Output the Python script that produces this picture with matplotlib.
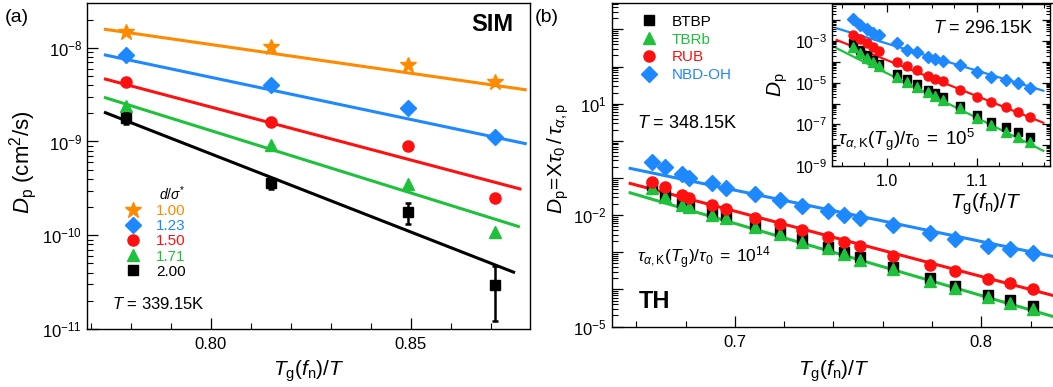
import numpy as np
import matplotlib
matplotlib.use("Agg")
import matplotlib.pyplot as plt
from matplotlib.ticker import FixedLocator, MultipleLocator, LogLocator, FuncFormatter, NullFormatter

plt.rcParams['font.family'] = ['Liberation Sans', 'DejaVu Sans']
plt.rcParams['mathtext.fontset'] = 'custom'
plt.rcParams['mathtext.rm'] = 'Liberation Sans'
plt.rcParams['mathtext.it'] = 'Liberation Sans:italic'
plt.rcParams['mathtext.bf'] = 'Liberation Sans:bold'

# ---------------- Panel (a) data ----------------
xa = [0.7788, 0.8152, 0.8494, 0.8711]
dsig_labels = ['1.00', '1.23', '1.50', '1.71', '2.00']
Da_100 = [1.46e-8, 1.03e-8, 6.6e-9, 4.27e-9]
Da_123 = [8.36e-9, 4.0e-9, 2.3e-9, 1.13e-9]
Da_150 = [4.35e-9, 1.63e-9, 8.85e-10, 2.48e-10]
Da_171 = [2.39e-9, 9.2e-10, 3.52e-10, 1.09e-10]
Da_200 = [1.77e-9, 3.64e-10, 1.76e-10, 2.95e-11]
Da_200_lo = [1.55e-9, 3.1e-10, 1.32e-10, 1.22e-11]
Da_200_hi = [2.0e-9, 4.1e-10, 2.19e-10, 4.71e-11]
# fit lines (start, end)
fitx_100 = [0.7737, 0.8786]; fit_100 = [1.57e-8, 3.57e-9]
fitx_123 = [0.7737, 0.8786]; fit_123 = [8.36e-9, 9.5e-10]
fitx_150 = [0.7737, 0.8773]; fit_150 = [4.63e-9, 3.12e-10]
fitx_171 = [0.7737, 0.8769]; fit_171 = [2.93e-9, 1.24e-10]
fitx_200 = [0.7737, 0.8757]; fit_200 = [2.03e-9, 4.04e-11]

# ---------------- Panel (b) main data (log10 of Dp) ----------------
xb = [0.6665, 0.6717, 0.6785, 0.6815, 0.6906, 0.6964, 0.7082, 0.7183, 0.7271,
      0.7379, 0.7444, 0.7508, 0.7643, 0.7792, 0.7893, 0.8028, 0.8116, 0.8211]
logDb_NBD = [-0.563, -0.714, -0.895, -1.011, -1.146, -1.264, -1.442, -1.596, -1.757,
             -1.892, -2.000, -2.089, -2.270, -2.477, -2.655, -2.836, -2.925, -3.032]
logDb_RUB = [-1.102, -1.237, -1.461, -1.550, -1.730, -1.846, -2.073, -2.243, -2.404,
             -2.601, -2.720, -2.836, -3.105, -3.348, -3.501, -3.733, -3.841, -4.003]
logDb_TBRb = [-1.280, -1.507, -1.730, -1.792, -2.000, -2.089, -2.332, -2.512, -2.720,
              -2.898, -3.051, -3.213, -3.464, -3.771, -3.976, -4.202, -4.364, -4.542]
logDb_BTBP = [-1.190, -1.450, -1.668, -1.740, -1.911, -2.030, -2.270, -2.450, -2.655,
              -2.854, -2.989, -3.140, -3.410, -3.706, -3.914, -4.156, -4.291, -4.453]
fitxb = [0.6575, 0.8286]
logfitb_NBD = [-0.741, -3.105]
logfitb_RUB = [-1.146, -4.156]
logfitb_TBRb = [-1.399, -4.722]

# ---------------- Inset data (log10 of Dp) ----------------
xi = [0.9626, 0.9703, 0.9781, 0.9848, 0.9914, 1.0114, 1.0226, 1.0337, 1.0459,
      1.0537, 1.0626, 1.0814, 1.1003, 1.1159, 1.1326, 1.1459, 1.1592]
logDi_NBD = [-1.95, -2.22, -2.43, -2.59, -2.70, -3.10, -3.42, -3.53, -3.75,
             -3.87, -3.95, -4.14, -4.47, -4.71, -4.87, -5.02, -5.26]
logDi_RUB = [-2.70, -2.90, -3.10, -3.28, -3.45, -3.99, -4.17, -4.40, -4.65,
             -4.80, -4.90, -5.35, -5.67, -5.91, -6.15, -6.39, -6.63]
logDi_TBRb = [-3.30, -3.55, -3.80, -4.00, -4.20, -4.70, -4.95, -5.20, -5.45,
              -5.62, -5.83, -6.23, -6.71, -7.03, -7.35, -7.59, -7.83]
logDi_BTBP = [-3.10, -3.40, -3.65, -3.88, -4.08, -4.58, -4.83, -5.08, -5.33,
              -5.50, -5.70, -6.12, -6.55, -6.87, -7.14, -7.35, -7.62]
fitxi = [0.9444, 1.1740]
logfiti_NBD = [-2.38, -5.38]
logfiti_RUB = [-2.94, -6.92]
logfiti_TBRb = [-3.34, -8.27]

mol_labels = ['BTBP', 'TBRb', 'RUB', 'NBD-OH']

C_OR = '#ff8a00'
C_BL = '#1e88ff'
C_RD = '#ff1010'
C_GR = '#1fc13c'
C_BK = '#000000'

W, H = 1053, 387
fig = plt.figure(figsize=(W / 100, H / 100), dpi=100)


def style_ax(ax, lab=12):
    ax.tick_params(which='both', direction='in', labelsize=lab)
    ax.tick_params(axis='x', which='both', pad=6)
    ax.tick_params(which='major', length=8, width=0.9)
    ax.tick_params(which='minor', length=4, width=0.8)
    for s in ax.spines.values():
        s.set_linewidth(1.0)


def p10(v):
    return 10.0 ** np.asarray(v)


# ================= Panel (a) =================
A_L, A_R, A_T, A_B = 87, 530, 3.4, 329
axA = fig.add_axes([A_L / W, 1 - A_B / H, (A_R - A_L) / W, (A_B - A_T) / H])
axA.set_yscale('log')
lw = 2.2
axA.plot(fitx_100, fit_100, color=C_OR, lw=lw, zorder=2)
axA.plot(fitx_123, fit_123, color=C_BL, lw=lw, zorder=2)
axA.plot(fitx_150, fit_150, color=C_RD, lw=lw, zorder=2)
axA.plot(fitx_171, fit_171, color=C_GR, lw=lw, zorder=2)
axA.plot(fitx_200, fit_200, color=C_BK, lw=lw, zorder=2)
hA = []
hA.append(axA.plot(xa, Da_100, ls='none', marker='*', ms=12, color=C_OR, mec=C_OR, zorder=3)[0])
hA.append(axA.plot(xa, Da_123, ls='none', marker='D', ms=8, color=C_BL, mec=C_BL, zorder=3)[0])
hA.append(axA.plot(xa, Da_150, ls='none', marker='o', ms=8, color=C_RD, mec=C_RD, zorder=3)[0])
hA.append(axA.plot(xa, Da_171, ls='none', marker='^', ms=8.5, color=C_GR, mec=C_GR, zorder=3)[0])
yerr = [np.array(Da_200) - np.array(Da_200_lo), np.array(Da_200_hi) - np.array(Da_200)]
eb = axA.errorbar(xa, Da_200, yerr=yerr, ls='none', marker='s', ms=7, color=C_BK,
                  mec=C_BK, elinewidth=1.8, capsize=2.5, capthick=1.8, zorder=3)
hA.append(eb[0])
axA.set_xlim(0.7691, 0.8798)
axA.set_ylim(1e-11, 10 ** -7.527)
axA.xaxis.set_major_locator(FixedLocator([0.80, 0.85]))
axA.xaxis.set_minor_locator(MultipleLocator(0.01))
axA.xaxis.set_major_formatter(FuncFormatter(lambda v, p: f'{v:.2f}'))
axA.yaxis.set_major_locator(FixedLocator([10.0 ** k for k in range(-11, -7)]))
axA.yaxis.set_minor_locator(LogLocator(base=10, subs=np.arange(2, 10), numticks=20))
axA.yaxis.set_major_formatter(FuncFormatter(lambda v, p: r'$10^{%d}$' % int(round(np.log10(v)))))
axA.yaxis.set_minor_formatter(NullFormatter())
style_ax(axA)
axA.set_xlabel(r'$T_\mathrm{g}(f_\mathrm{n})/T$', fontsize=15)
axA.xaxis.set_label_coords(0.5, -(359 - A_B) / (A_B - A_T))
axA.set_ylabel(r'$D_\mathrm{p}$ (cm$^2$/s)', fontsize=16)
axA.yaxis.set_label_coords((39 - A_L) / (A_R - A_L), 1 - (162 - A_T) / (A_B - A_T))
axA.text(0.9616, 0.934, 'SIM', transform=axA.transAxes, ha='right', va='center',
         fontsize=17, fontweight='bold')
axA.text(0.0555, 0.078, r'$T$ = 339.15K', transform=axA.transAxes, ha='left',
         va='center', fontsize=12)
legA = axA.legend(hA, dsig_labels, loc='upper left', bbox_to_anchor=(0.087, 0.445),
                  frameon=False, fontsize=11, handlelength=1.0, handletextpad=1.0,
                  labelspacing=0.08, borderpad=0, borderaxespad=0,
                  title=r'$d/\sigma^{*}$', title_fontsize=10, alignment='right',
                  labelcolor=[C_OR, C_BL, C_RD, C_GR, C_BK])
fig.text(5 / W, 1 - 17 / H, '(a)', fontsize=14, ha='left', va='center')

# ================= Panel (b) =================
B_L, B_R, B_T, B_B = 611.7, 1056, 3.4, 326.5
axB = fig.add_axes([B_L / W, 1 - B_B / H, (B_R - B_L) / W, (B_B - B_T) / H])
axB.set_yscale('log')
lwb = 2.2
axB.plot(fitxb, p10(logfitb_NBD), color=C_BL, lw=lwb, zorder=2)
axB.plot(fitxb, p10(logfitb_RUB), color=C_RD, lw=lwb, zorder=2)
axB.plot(fitxb, p10(logfitb_TBRb), color=C_GR, lw=lwb, zorder=2)
hB = []
hB.append(axB.plot(xb, p10(logDb_BTBP), ls='none', marker='s', ms=6.5, color=C_BK, mec=C_BK, zorder=3)[0])
hB.append(axB.plot(xb, p10(logDb_TBRb), ls='none', marker='^', ms=8.5, color=C_GR, mec=C_GR, zorder=4)[0])
hB.append(axB.plot(xb, p10(logDb_RUB), ls='none', marker='o', ms=8, color=C_RD, mec=C_RD, zorder=4)[0])
hB.append(axB.plot(xb, p10(logDb_NBD), ls='none', marker='D', ms=8, color=C_BL, mec=C_BL, zorder=4)[0])
axB.set_xlim(0.6500, 0.8303)
axB.set_ylim(1e-5, 10 ** 3.703)
axB.xaxis.set_major_locator(FixedLocator([0.7, 0.8]))
axB.xaxis.set_minor_locator(MultipleLocator(0.02))
axB.xaxis.set_major_formatter(FuncFormatter(lambda v, p: f'{v:.1f}'))
axB.yaxis.set_major_locator(FixedLocator([10.0 ** k for k in range(-5, 4)]))
axB.yaxis.set_minor_locator(LogLocator(base=10, subs=np.arange(2, 10), numticks=20))
axB.yaxis.set_minor_formatter(NullFormatter())


def fmt_b(v, p):
    k = int(round(np.log10(v)))
    return r'$10^{%d}$' % k if k in (-5, -2, 1) else ''


axB.yaxis.set_major_formatter(FuncFormatter(fmt_b))
style_ax(axB)
axB.set_xlabel(r'$T_\mathrm{g}(f_\mathrm{n})/T$', fontsize=15)
axB.xaxis.set_label_coords(0.5, -(359 - B_B) / (B_B - B_T))
axB.set_ylabel(r'$D_\mathrm{p}\!=\!\mathrm{X}\tau_0\,/\,\tau_{\alpha,\mathrm{p}}$', fontsize=15)
axB.yaxis.set_label_coords((571 - B_L) / (B_R - B_L), 1 - (158 - B_T) / (B_B - B_T))
axB.text(0.0576, 0.627, r'$T$ = 348.15K', transform=axB.transAxes, ha='left', va='center', fontsize=13)
axB.text(0.0563, 0.212, r'$\tau_{\alpha,\mathrm{K}}(T_\mathrm{g})/\tau_0\;=\;10^{14}$',
         transform=axB.transAxes, ha='left', va='center', fontsize=12.5)
axB.text(0.0599, 0.077, 'TH', transform=axB.transAxes, ha='left', va='center',
         fontsize=17, fontweight='bold')
legB = axB.legend(hB, mol_labels, loc='upper left', bbox_to_anchor=(0.067, 0.965),
                  frameon=False, fontsize=11, handlelength=1.0, handletextpad=1.0,
                  labelspacing=0.25, borderpad=0, borderaxespad=0,
                  labelcolor=[C_BK, C_GR, C_RD, C_BL])
fig.text(535 / W, 1 - 17 / H, '(b)', fontsize=14, ha='left', va='center')

# ================= Inset =================
I_L, I_R, I_T, I_B = 831.7, 1050, 4, 166
axI = fig.add_axes([I_L / W, 1 - I_B / H, (I_R - I_L) / W, (I_B - I_T) / H])
axI.set_zorder(5)
axI.set_facecolor('white')
axI.set_yscale('log')
lwi = 1.6
axI.plot(fitxi, p10(logfiti_NBD), color=C_BL, lw=lwi, zorder=2)
axI.plot(fitxi, p10(logfiti_RUB), color=C_RD, lw=lwi, zorder=2)
axI.plot(fitxi, p10(logfiti_TBRb), color=C_GR, lw=lwi, zorder=2)
axI.plot(xi, p10(logDi_BTBP), ls='none', marker='s', ms=5.5, color=C_BK, mec=C_BK, zorder=3)
axI.plot(xi, p10(logDi_TBRb), ls='none', marker='^', ms=7, color=C_GR, mec=C_GR, zorder=4)
axI.plot(xi, p10(logDi_RUB), ls='none', marker='o', ms=6.5, color=C_RD, mec=C_RD, zorder=4)
axI.plot(xi, p10(logDi_NBD), ls='none', marker='D', ms=6, color=C_BL, mec=C_BL, zorder=4)
axI.set_xlim(0.9389, 1.1814)
axI.set_ylim(1e-9, 10 ** -1.21)
axI.xaxis.set_major_locator(FixedLocator([1.0, 1.1]))
axI.xaxis.set_minor_locator(MultipleLocator(0.025))
axI.xaxis.set_major_formatter(FuncFormatter(lambda v, p: f'{v:.1f}'))
axI.yaxis.set_major_locator(FixedLocator([10.0 ** k for k in range(-9, -1)]))
axI.yaxis.set_minor_locator(LogLocator(base=10, subs=np.arange(2, 10), numticks=20))
axI.yaxis.set_minor_formatter(NullFormatter())


def fmt_i(v, p):
    k = int(round(np.log10(v)))
    return r'$10^{%d}$' % k if k in (-9, -7, -5, -3) else ''


axI.yaxis.set_major_formatter(FuncFormatter(fmt_i))
style_ax(axI, lab=11.5)
axI.tick_params(which='both', top=True, right=True)
axI.tick_params(which='major', length=6)
axI.tick_params(which='minor', length=3)
axI.set_xlabel(r'$T_\mathrm{g}(f_\mathrm{n})/T$', fontsize=15)
axI.xaxis.set_label_coords((985.7 - I_L) / (I_R - I_L), -(191.7 - I_B) / (I_B - I_T))
axI.set_ylabel(r'$D_\mathrm{p}$', fontsize=15)
axI.yaxis.set_label_coords((790 - I_L) / (I_R - I_L), 0.5)
axI.text(0.465, 0.85, r'$T$ = 296.15K', transform=axI.transAxes, ha='left', va='center', fontsize=13)
axI.text(0.029, 0.16, r'$\tau_{\alpha,\mathrm{K}}(T_\mathrm{g})/\tau_0\;=\;10^{5}$',
         transform=axI.transAxes, ha='left', va='center', fontsize=13.5)

fig.savefig('out.png', dpi=100)
